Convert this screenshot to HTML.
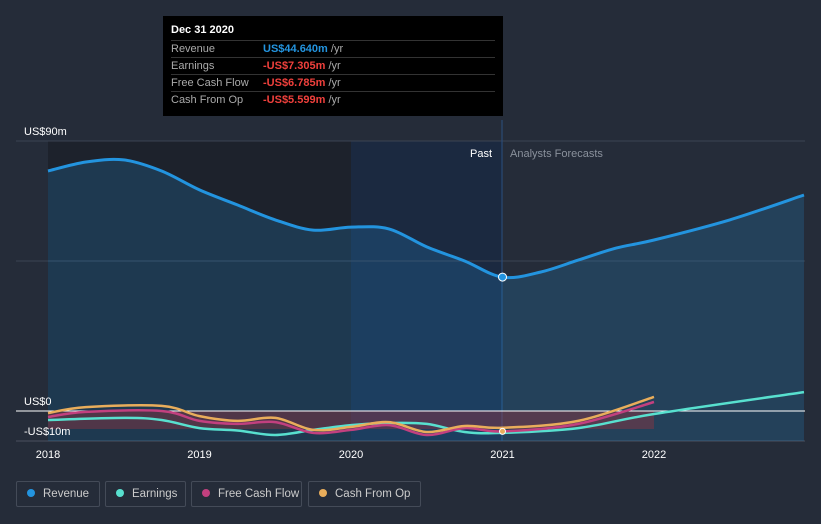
<!DOCTYPE html>
<html><head><meta charset="utf-8"><style>
body{margin:0;background:#252c39;font-family:"Liberation Sans",sans-serif;}
#wrap{position:relative;width:821px;height:524px;overflow:hidden;background:#252c39;}
svg{position:absolute;left:0;top:0;}
.tt{position:absolute;left:163px;top:16px;width:340px;height:100px;background:#000;color:#fff;font-size:11px;}
.tt .row{position:absolute;left:8px;width:324px;border-top:1px solid #333;height:17px;line-height:17px;color:#aaa;}
.tt .row span{position:absolute;left:92px;}
.legend{position:absolute;top:481px;height:26px;border:1px solid #444b58;border-radius:2px;color:#ccc;font-size:11.5px;line-height:24px;box-sizing:border-box;white-space:nowrap;overflow:hidden;}
.legend i{display:inline-block;width:8px;height:8px;border-radius:4px;margin:0 8px 0 10px;}
</style></head><body>
<div id="wrap">
<svg id="svg" width="821" height="524"></svg>
<div class="tt">
 <div style="position:absolute;left:8px;top:8px;font-weight:bold;">Dec 31 2020</div>
 <div class="row" style="top:24px">Revenue<span style="color:#2394df;font-weight:bold">US$44.640m <b style="color:#aaa;font-weight:normal">/yr</b></span></div>
 <div class="row" style="top:41px">Earnings<span style="color:#f0403c;font-weight:bold">-US$7.305m <b style="color:#aaa;font-weight:normal">/yr</b></span></div>
 <div class="row" style="top:58px">Free Cash Flow<span style="color:#f0403c;font-weight:bold">-US$6.785m <b style="color:#aaa;font-weight:normal">/yr</b></span></div>
 <div class="row" style="top:75px">Cash From Op<span style="color:#f0403c;font-weight:bold">-US$5.599m <b style="color:#aaa;font-weight:normal">/yr</b></span></div>
</div>
<div class="legend" style="left:16px;width:84px"><i style="background:#2394df"></i>Revenue</div>
<div class="legend" style="left:105px;width:81px"><i style="background:#58e0cf"></i>Earnings</div>
<div class="legend" style="left:191px;width:111px"><i style="background:#c2407f"></i>Free Cash Flow</div>
<div class="legend" style="left:308px;width:113px"><i style="background:#e9ad5b"></i>Cash From Op</div>
</div>
<script>
const revX=[2018,2018.25,2018.5,2018.75,2019,2019.25,2019.5,2019.75,2020,2020.25,2020.5,2020.75,2021,2021.25,2021.5,2021.75,2022,2022.5,2022.99];
const revenue=[80,83,83.7,80,73.7,68.7,63.7,60.3,61.3,60.7,54.7,50,44.6,46.3,50.3,54.3,57,63.7,72];
const earnX=[2018,2018.5,2018.75,2019,2019.25,2019.5,2019.75,2020,2020.25,2020.5,2020.75,2021,2021.5,2022,2022.99];
const earnings=[-3,-2.3,-3,-5.7,-6.5,-8,-6.3,-4.7,-4,-4.3,-7,-7.3,-5.7,-1,6.3];
const cfX=[2018,2018.25,2018.75,2019,2019.25,2019.5,2019.75,2020,2020.25,2020.5,2020.75,2021,2021.5,2022];
const fcf=[-2,-0.3,0,-3.3,-4.3,-3.7,-7.3,-6.3,-4.7,-8,-5.7,-6.8,-4.3,3];
const cfo=[-0.7,1.3,1.7,-1.7,-3.3,-2.3,-6.3,-5.3,-3.7,-7,-5,-5.6,-3.3,4.7];
const yTicks=[{v:90,l:"US$90m"},{v:0,l:"US$0"},{v:-10,l:"-US$10m"}];
const xTicks=[2018,2019,2020,2021,2022];
const X=t=>48+(t-2018)*151.5, Y=v=>411-v*3;
const s=document.getElementById('svg'),NS='http://www.w3.org/2000/svg';
function el(n,a,name){const e=document.createElementNS(NS,n);for(const k in a)e.setAttribute(k,a[k]);


s.appendChild(e);return e;}
function path(xs,ys){const p=xs.map((x,i)=>[X(x),Y(ys[i])]);let d='M'+p[0][0]+','+p[0][1];
for(let i=0;i<p.length-1;i++){const p0=p[Math.max(0,i-1)],p1=p[i],p2=p[i+1],p3=p[Math.min(p.length-1,i+2)];
const c1x=p1[0]+(p2[0]-p0[0])/6,c1y=p1[1]+(p2[1]-p0[1])/6,c2x=p2[0]-(p3[0]-p1[0])/6,c2y=p2[1]-(p3[1]-p1[1])/6;
d+=` C${c1x},${c1y} ${c2x},${c2y} ${p2[0]},${p2[1]}`;}return d;}
el('rect',{x:48,y:141,width:454,height:300,fill:'#1d222c'},'past-bg');
el('rect',{x:351,y:141,width:151,height:300,fill:'#1b2940'},'highlight-band');
el('line',{x1:16,x2:805,y1:Y(90),y2:Y(90),stroke:'#3b4352'},'grid-90');
el('line',{x1:16,x2:805,y1:Y(50),y2:Y(50),stroke:'#3b4352'},'grid-mid');
el('line',{x1:16,x2:805,y1:Y(-10),y2:Y(-10),stroke:'#4a5160'},'grid-neg10');
el('line',{x1:502,x2:502,y1:120,y2:441,stroke:'#2a4f80'},'today-line');
const rp=path(revX,revenue);
el('path',{d:rp+` L${X(2022.99)},${Y(-10)} L48,${Y(-10)} Z`,fill:'#2394df',opacity:0.2},'revenue-area');
el('rect',{x:48,y:411,width:606,height:18,fill:'#b0303a',opacity:0.35},'negative-area');
el('line',{x1:16,x2:805,y1:Y(0),y2:Y(0),stroke:'#fff','stroke-width':1},'zero-line');
el('path',{d:rp,fill:'none',stroke:'#2394df','stroke-width':3},'revenue-line');
el('path',{d:path(earnX,earnings),fill:'none',stroke:'#58e0cf','stroke-width':2.5},'earnings-line');
el('path',{d:path(cfX,fcf),fill:'none',stroke:'#c2407f','stroke-width':2.5},'fcf-line');
el('path',{d:path(cfX,cfo),fill:'none',stroke:'#e9ad5b','stroke-width':2.5},'cfo-line');
el('circle',{cx:X(2021),cy:Y(44.64),r:4,fill:'#2394df',stroke:'#fff','stroke-width':1},'revenue-marker');
el('circle',{cx:X(2021),cy:Y(-6.8),r:3,fill:'#e9ad5b',stroke:'#fff'},'cfo-marker');
yTicks.forEach(t=>{const e=el('text',{x:24,y:Y(t.v)-6,fill:'#fff','font-size':11},'y-tick-label');e.textContent=t.l;});
xTicks.forEach(t=>{const e=el('text',{x:X(t),y:458,fill:'#fff','font-size':11,'text-anchor':'middle'},'x-tick-label');e.textContent=t;});
let e=el('text',{x:492,y:157,fill:'#fff','font-size':11,'text-anchor':'end'},'past-label');e.textContent='Past';
e=el('text',{x:510,y:157,fill:'#8a919c','font-size':11},'forecast-label');e.textContent='Analysts Forecasts';
</script>
</body></html>
